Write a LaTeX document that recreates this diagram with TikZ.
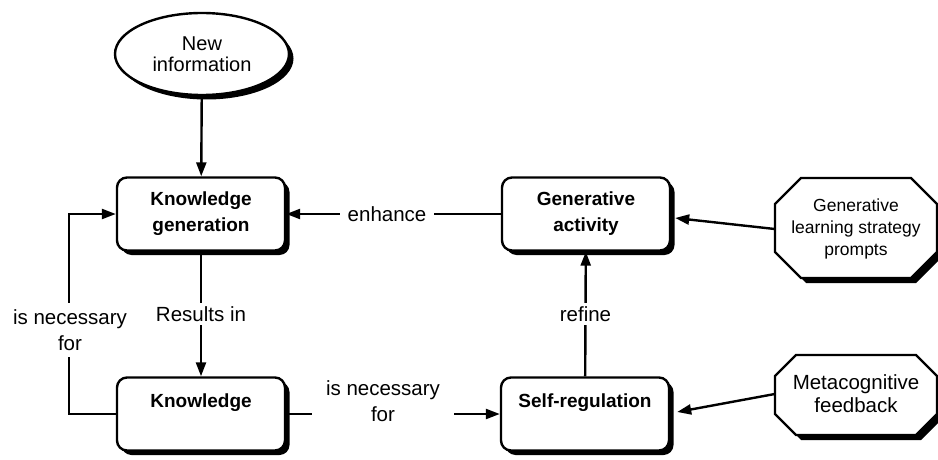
\documentclass[tikz,border=0pt]{standalone}
\usepackage{fontspec}
\setmainfont{Liberation Sans}
\usetikzlibrary{shapes.geometric,shadows,arrows.meta}
\begin{document}
\begin{tikzpicture}[x=1pt,y=-1pt,
  shad/.style={drop shadow={shadow xshift=4.5pt,shadow yshift=-4.5pt,fill=black,opacity=1}},
  box/.style={draw,line width=2.4pt,rounded corners=10pt,fill=white,minimum width=168pt,
    minimum height=73pt,align=center,inner sep=0pt,font=\fontsize{19}{26}\selectfont\bfseries,shad},
  conn/.style={line width=2.4pt,-{Triangle[length=14pt,width=10pt]}},
  lbl/.style={fill=white,align=center,inner xsep=8pt,inner ysep=3pt,font=\fontsize{20.5}{26}\selectfont},
  octtext/.style={minimum width=162pt,align=center,inner sep=0pt},
  octline/.style={draw,line width=2.4pt,fill=white},
  octshad/.style={fill=black}]
\useasboundingbox (0,0) rectangle (938,460);

% octagon outlines
\fill[octshad] (806,183) -- (916,183) -- (942,209) -- (942,257) -- (916,283) -- (806,283) -- (780,257) -- (780,209) -- cycle;
\path[octline] (801,178) -- (911,178) -- (937,204) -- (937,252) -- (911,278) -- (801,278) -- (775,252) -- (775,204) -- cycle;
\fill[octshad] (801,360) -- (921,360) -- (942,381) -- (942,419) -- (921,440) -- (801,440) -- (780,419) -- (780,381) -- cycle;
\path[octline] (796,355) -- (916,355) -- (937,376) -- (937,414) -- (916,435) -- (796,435) -- (775,414) -- (775,376) -- cycle;

% nodes
\node[draw,ellipse,line width=2.4pt,fill=white,minimum width=174pt,minimum height=82pt,
  align=center,inner sep=0pt,font=\fontsize{20}{21}\selectfont,shad] (NI) at (202,54) {New\\information};
\node[box] (KG) at (201,214) {Knowledge\\generation};
\node[box] (K) at (201,414) {Knowledge\\\mbox{}};
\node[box] (GA) at (586,214) {Generative\\activity};
\node[box] (SR) at (585,414) {Self-regulation\\\mbox{}};
\node[octtext,minimum height=100pt,font=\fontsize{17.5}{22}\selectfont] (P1) at (856,229) {Generative\\learning strategy\\prompts};
\node[octtext,minimum height=80pt,font=\fontsize{20.5}{23}\selectfont] (P2) at (856,394) {Metacognitive\\feedback};

% connectors
\draw[conn] (NI) -- (KG);
\draw[conn] (GA) -- node[lbl,pos=0.53] (Lenh) {enhance} (KG);
\draw[conn] (KG) -- node[lbl,inner xsep=3pt] (Lres) {Results in} (K);
\draw[conn] (SR) -- node[lbl,inner xsep=3pt] (Lref) {refine} (GA);
\draw[conn] (K.west) -- ++(-47,0) |- (KG.west);
\node[lbl,inner ysep=6pt,inner xsep=3pt] (Lnec1) at (70,330) {is necessary\\for};
\draw[conn] (K) -- (SR);
\node[lbl,inner xsep=14pt,inner ysep=4pt] (Lnec2) at (383,401) {is necessary\\for};
\draw[conn] (P1.west) -- ([shift={(4,4)}]GA.east);
\draw[conn] (P2.west) -- ([shift={(7,-2)}]SR.east);
\end{tikzpicture}
\end{document}
